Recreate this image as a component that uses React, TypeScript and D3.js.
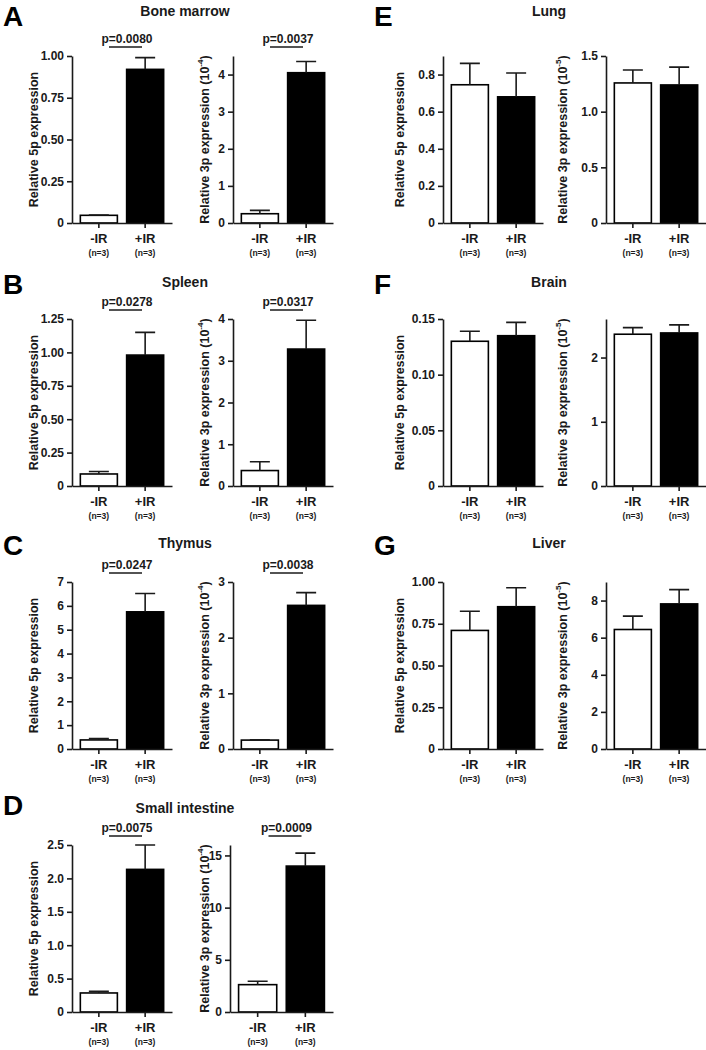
import React, { useEffect, useRef } from 'react';
import * as d3 from 'd3';

// groups on the x axis
const groups = ['-IR', '+IR'];
const groupN = ['(n=3)', '(n=3)'];

// one entry per panel, A..G
const panelLetters = ['A', 'B', 'C', 'D', 'E', 'F', 'G'];
const tissues = ['Bone marrow', 'Spleen', 'Thymus', 'Small intestine', 'Lung', 'Brain', 'Liver'];

// 5p expression: mean and SEM for [-IR, +IR]
const mean5p = [[0.046, 0.92], [0.09, 0.98], [0.38, 5.75], [0.285, 2.135], [0.745, 0.68], [0.13, 0.135], [0.71, 0.852]];
const sem5p = [[0.002, 0.07], [0.018, 0.17], [0.06, 0.77], [0.025, 0.365], [0.115, 0.128], [0.009, 0.012], [0.115, 0.114]];

// 3p expression: mean and SEM for [-IR, +IR]
const mean3p = [[0.25, 4.05], [0.37, 3.28], [0.16, 2.58], [2.62, 13.98], [1.258, 1.24], [2.363, 2.383], [6.44, 7.82]];
const sem3p = [[0.09, 0.3], [0.21, 0.69], [0.005, 0.23], [0.32, 1.24], [0.116, 0.16], [0.103, 0.125], [0.72, 0.77]];

const pValues5p = ['p=0.0080', 'p=0.0278', 'p=0.0247', 'p=0.0075', '', '', ''];
const pValues3p = ['p=0.0037', 'p=0.0317', 'p=0.0038', 'p=0.0009', '', '', ''];
const exponent3p = ['-4', '-4', '-4', '-4', '-5', '-5', '-5'];

const yMax5p = [1, 1.25, 7, 2.5, 0.9, 0.15, 1];
const yMax3p = [4.5, 4, 3, 16, 1.5, 2.6, 9];

const ticks5p = [
  [0, 0.25, 0.5, 0.75, 1],
  [0, 0.25, 0.5, 0.75, 1, 1.25],
  [0, 1, 2, 3, 4, 5, 6, 7],
  [0, 0.5, 1, 1.5, 2, 2.5],
  [0, 0.2, 0.4, 0.6, 0.8],
  [0, 0.05, 0.1, 0.15],
  [0, 0.25, 0.5, 0.75, 1],
];
const tickLabels5p = [
  ['0', '0.25', '0.50', '0.75', '1.00'],
  ['0', '0.25', '0.50', '0.75', '1.00', '1.25'],
  ['0', '1', '2', '3', '4', '5', '6', '7'],
  ['0', '0.5', '1.0', '1.5', '2.0', '2.5'],
  ['0', '0.2', '0.4', '0.6', '0.8'],
  ['0', '0.05', '0.10', '0.15'],
  ['0', '0.25', '0.50', '0.75', '1.00'],
];
const ticks3p = [
  [0, 1, 2, 3, 4],
  [0, 1, 2, 3, 4],
  [0, 1, 2, 3],
  [0, 5, 10, 15],
  [0, 0.5, 1, 1.5],
  [0, 1, 2],
  [0, 2, 4, 6, 8],
];
const tickLabels3p = [
  ['0', '1', '2', '3', '4'],
  ['0', '1', '2', '3', '4'],
  ['0', '1', '2', '3'],
  ['0', '5', '10', '15'],
  ['0', '0.5', '1.0', '1.5'],
  ['0', '1', '2'],
  ['0', '2', '4', '6', '8'],
];

// layout
const W = 706;
const H = 1050;
const FONT = '"Liberation Sans", Arial, Helvetica, sans-serif';
const INK = '#1a1a1a';
const panelCol = [0, 0, 0, 0, 1, 1, 1];
const panelRow = [0, 1, 2, 3, 0, 1, 2];
const axisX = [[72, 233], [443, 606]];
const labelX = [[34, 205], [400, 563]];
const rowTop = [56, 319, 582, 845];
const titleY = [16, 287, 548, 813];
const letterY = [26, 294, 555, 815];
const titleX = [185, 549];
const letterX = [3, 374];
const plotW = 100;
const plotH = 167;

export default function App() {
  const svgRef = useRef<SVGSVGElement>(null);

  useEffect(() => {
    if (!svgRef.current) return;
    const svg = d3.select(svgRef.current);
    svg.selectAll('*').remove();

    svg.append('rect').attr('width', W).attr('height', H).attr('fill', '#fff');

    const drawPlot = (
      p: number, which: number, means: number[], sems: number[], yMax: number,
      ticks: number[], tickLabels: string[], pText: string, exponent: string | null
    ) => {
      const col = panelCol[p];
      const row = panelRow[p];
      let x0 = axisX[col][which];
      let w = plotW;
      if (p === 3 && which === 1) { x0 = 230; w = 103; }
      const top = rowTop[row];
      const bottom = top + plotH;

      const x = d3.scaleBand<string>().domain(groups).range([x0, x0 + w])
        .paddingInner(0.2).paddingOuter(0.18);
      const y = d3.scaleLinear().domain([0, yMax]).range([bottom, top]);

      const g = svg.append('g');

      // bars
      g.selectAll('rect.bar')
        .data(groups)
        .join('rect')
        .attr('class', 'bar')
        .attr('x', d => x(d)!)
        .attr('y', (d, i) => y(means[i]))
        .attr('width', x.bandwidth())
        .attr('height', (d, i) => bottom - y(means[i]))
        .attr('fill', (d, i) => (i === 0 ? '#fff' : '#000'))
        .attr('stroke', '#000')
        .attr('stroke-width', 1.6);

      // error bars (upper only)
      g.selectAll('path.err')
        .data(groups)
        .join('path')
        .attr('class', 'err')
        .attr('d', (d, i) => {
          const cx = x(d)! + x.bandwidth() / 2;
          const y1 = y(means[i]);
          const y2 = y(means[i] + sems[i]);
          return `M${cx},${y1}V${y2}M${cx - 10},${y2}H${cx + 10}`;
        })
        .attr('fill', 'none')
        .attr('stroke', INK)
        .attr('stroke-width', 1.6);

      // y axis
      const yAxis = g.append('g')
        .attr('transform', `translate(${x0},0)`)
        .call(d3.axisLeft(y).tickValues(ticks)
          .tickFormat((d, i) => tickLabels[i])
          .tickSize(5).tickSizeOuter(0).tickPadding(3));
      yAxis.selectAll('text')
        .attr('font-family', FONT).attr('font-size', 12).attr('font-weight', 'bold').attr('fill', INK);

      // x axis
      const xAxis = g.append('g')
        .attr('transform', `translate(0,${bottom})`)
        .call(d3.axisBottom(x).tickSize(5).tickSizeOuter(0).tickFormat(() => ''));

      [yAxis, xAxis].forEach(a => {
        a.attr('font-family', FONT);
        a.selectAll('path, line').attr('stroke', INK).attr('stroke-width', 1.6);
      });

      groups.forEach((gname, i) => {
        const cx = x(gname)! + x.bandwidth() / 2;
        g.append('text')
          .attr('x', cx).attr('y', bottom + 20)
          .attr('text-anchor', 'middle')
          .attr('font-family', FONT).attr('font-size', 13).attr('font-weight', 'bold')
          .attr('fill', INK)
          .text(gname);
        g.append('text')
          .attr('x', cx).attr('y', bottom + 33)
          .attr('text-anchor', 'middle')
          .attr('font-family', FONT).attr('font-size', 8.5).attr('font-weight', 'bold')
          .attr('fill', INK)
          .text(groupN[i]);
      });

      // y label
      const lx = labelX[col][which];
      const ly = top + plotH / 2;
      const label = g.append('text')
        .attr('transform', `translate(${lx},${ly}) rotate(-90)`)
        .attr('text-anchor', 'middle')
        .attr('dominant-baseline', 'central')
        .attr('font-family', FONT).attr('font-size', 12.5).attr('font-weight', 'bold')
        .attr('fill', INK);
      if (exponent) {
        label.append('tspan').text('Relative 3p expression (10');
        label.append('tspan').attr('font-size', 8).attr('dy', -5).text(exponent);
        label.append('tspan').attr('dy', 5).text(')');
      } else {
        label.text('Relative 5p expression');
      }

      // significance
      if (pText) {
        const c1 = x(groups[0])! + x.bandwidth() / 2;
        const c2 = x(groups[1])! + x.bandwidth() / 2;
        const mid = (c1 + c2) / 2;
        g.append('text')
          .attr('x', mid + 5).attr('y', top - 13)
          .attr('text-anchor', 'middle')
          .attr('font-family', FONT).attr('font-size', 12).attr('font-weight', 'bold')
          .attr('fill', INK)
          .text(pText);
        g.append('line')
          .attr('x1', mid - 13).attr('x2', mid + 20)
          .attr('y1', top - 9).attr('y2', top - 9)
          .attr('stroke', INK).attr('stroke-width', 1.4);
      }
    };

    panelLetters.forEach((letter, p) => {
      const col = panelCol[p];
      const row = panelRow[p];
      svg.append('text')
        .attr('x', letterX[col]).attr('y', letterY[row])
        .attr('font-family', FONT).attr('font-size', 28).attr('font-weight', 'bold')
        .attr('fill', '#000')
        .text(letter);
      svg.append('text')
        .attr('x', titleX[col]).attr('y', titleY[row])
        .attr('text-anchor', 'middle')
        .attr('font-family', FONT).attr('font-size', 14).attr('font-weight', 'bold')
        .attr('fill', INK)
        .text(tissues[p]);

      drawPlot(p, 0, mean5p[p], sem5p[p], yMax5p[p], ticks5p[p], tickLabels5p[p], pValues5p[p], null);
      drawPlot(p, 1, mean3p[p], sem3p[p], yMax3p[p], ticks3p[p], tickLabels3p[p], pValues3p[p], exponent3p[p]);
    });
  }, []);

  return (
    <svg
      ref={svgRef}
      width={W}
      height={H}
      style={{ position: 'absolute', left: 0, top: 0, display: 'block' }}
    />
  );
}
